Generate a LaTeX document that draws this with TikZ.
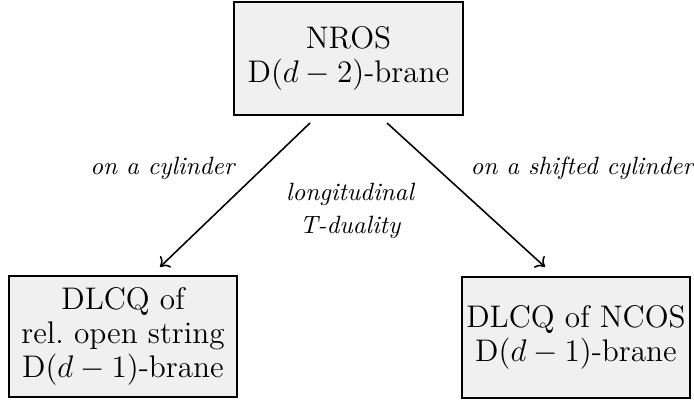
\documentclass[tikz,border=0pt]{standalone}
\usetikzlibrary{arrows.meta}
\begin{document}
\begin{tikzpicture}[x=0.384pt,y=-0.384pt,
  box/.style={draw=black, fill=black!6, line width=0.9pt, align=center, inner sep=0pt,
    font=\fontsize{12}{13.1}\selectfont},
  lbl/.style={font=\fontsize{9.6}{12.7}\selectfont\itshape, inner sep=0pt},
  conn/.style={-{To[length=3.2pt,width=6pt]}, line width=0.6pt}]
\useasboundingbox (0,0) rectangle (694,402);
\node[box, minimum width=229*0.384pt, minimum height=113*0.384pt] (top) at (348.5,58.5) {NROS\\D$(d-2)$-brane};
\node[box, minimum width=228*0.384pt, minimum height=121*0.384pt] (left) at (123,336.5) {DLCQ of\\rel.\ open string\\D$(d-1)$-brane};
\node[box, minimum width=228*0.384pt, minimum height=121*0.384pt] (right) at (576,337.5) {DLCQ of NCOS\\D$(d-1)$-brane};
\coordinate (s1) at (310,123);
\coordinate (e1) at (160,267);
\coordinate (s2) at (387,123);
\coordinate (e2) at (545,267);
\draw[conn] (s1) -- (e1);
\draw[conn] (s2) -- (e2);
\node[lbl, anchor=base east] (l1) at (235,175) {on a cylinder};
\node[lbl, anchor=base west] (l2) at (470,175) {on a shifted cylinder};
\node[lbl, anchor=north, align=center] (l3) at (350,183) {longitudinal\\T-duality};
\end{tikzpicture}
\end{document}
